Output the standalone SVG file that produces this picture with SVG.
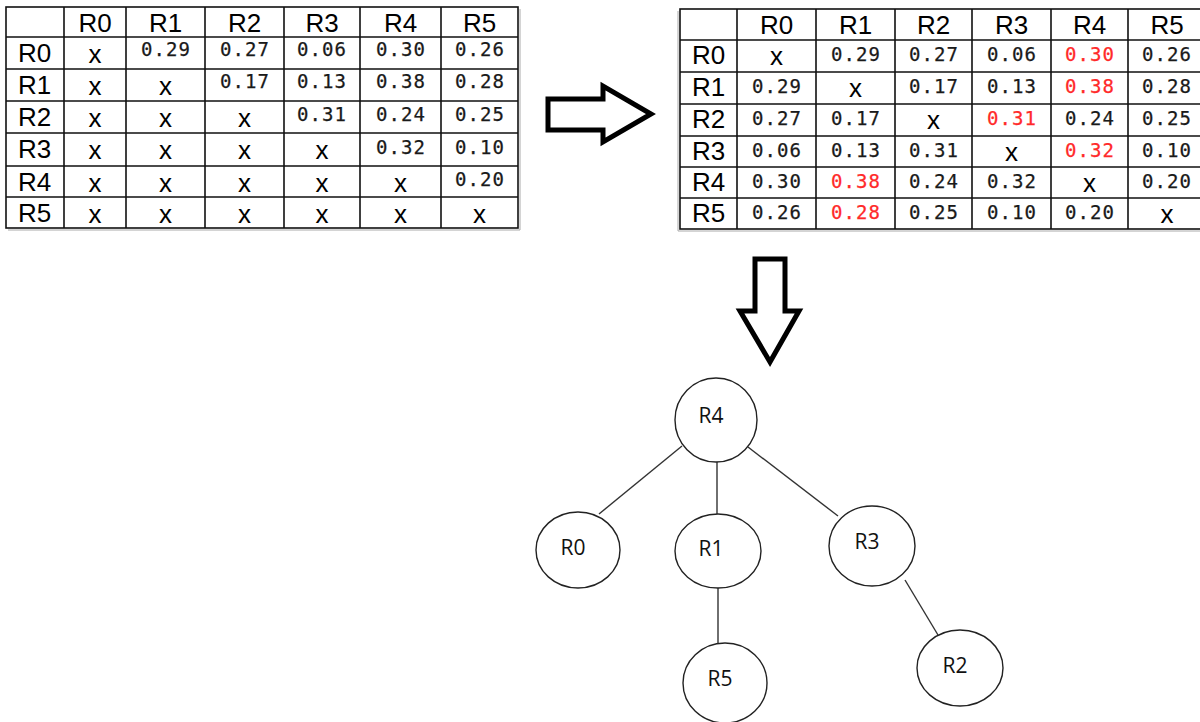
<svg xmlns="http://www.w3.org/2000/svg" width="1200" height="722" viewBox="0 0 1200 722">
  <style>
    .grid { fill: none; stroke: #111; stroke-width: 1.6; }
    .shade { fill: none; stroke: #aaa; stroke-width: 1; }
    .h { font-family: "Liberation Sans", Arial, sans-serif; font-size: 26px; fill: #000; text-anchor: middle; }
    .lbl { font-family: "Liberation Sans", Arial, sans-serif; font-size: 26px; fill: #000; }
    .x { font-family: "Liberation Sans", Arial, sans-serif; font-size: 26px; fill: #000; text-anchor: middle; }
    .n { font-family: "DejaVu Sans Mono", "Liberation Mono", monospace; font-size: 19px; letter-spacing: 1px; fill: #1a1a1a; text-anchor: middle; stroke: #1a1a1a; stroke-width: 0.25; }
    .red { fill: #ff2a2a; stroke: #ff2a2a; }
    .arrow { fill: #fff; stroke: #000; stroke-width: 5; stroke-linejoin: miter; }
    .node { fill: #fff; stroke: #222; stroke-width: 1.4; }
    .edge { stroke: #333; stroke-width: 1.4; fill: none; }
    .nl { font-family: "Open Sans", "Noto Sans", sans-serif; font-size: 21px; fill: #111; text-anchor: middle; }
  </style>

  <!-- Upper-triangular distance table -->
  <g id="table-upper">
    <path class="shade" d="M8 230 H520 V9"/>
    <rect class="grid" x="6" y="7" width="512" height="221"/>
    <path class="grid" d="M64 7 V228 M126 7 V228 M205 7 V228 M284 7 V228 M360 7 V228 M441 7 V228
                          M6 37 H518 M6 69 H518 M6 101 H518 M6 133 H518 M6 166 H518 M6 197 H518"/>
    <text class="h" x="95" y="32">R0</text>
    <text class="h" x="165.5" y="32">R1</text>
    <text class="h" x="244.5" y="32">R2</text>
    <text class="h" x="322" y="32">R3</text>
    <text class="h" x="400.5" y="32">R4</text>
    <text class="h" x="479.5" y="32">R5</text>

    <text class="lbl" x="18" y="62">R0</text>
    <text class="lbl" x="18" y="94">R1</text>
    <text class="lbl" x="18" y="126">R2</text>
    <text class="lbl" x="18" y="158">R3</text>
    <text class="lbl" x="18" y="191">R4</text>
    <text class="lbl" x="18" y="222">R5</text>

    <!-- row R0 -->
    <text class="x" x="95" y="63">x</text>
    <text class="n" x="166" y="56">0.29</text>
    <text class="n" x="245" y="56">0.27</text>
    <text class="n" x="322" y="56">0.06</text>
    <text class="n" x="401" y="56">0.30</text>
    <text class="n" x="480" y="56">0.26</text>
    <!-- row R1 -->
    <text class="x" x="95" y="95">x</text>
    <text class="x" x="165.5" y="95">x</text>
    <text class="n" x="245" y="88">0.17</text>
    <text class="n" x="322" y="88">0.13</text>
    <text class="n" x="401" y="88">0.38</text>
    <text class="n" x="480" y="88">0.28</text>
    <!-- row R2 -->
    <text class="x" x="95" y="127">x</text>
    <text class="x" x="165.5" y="127">x</text>
    <text class="x" x="244.5" y="127">x</text>
    <text class="n" x="322" y="121">0.31</text>
    <text class="n" x="401" y="121">0.24</text>
    <text class="n" x="480" y="121">0.25</text>
    <!-- row R3 -->
    <text class="x" x="95" y="159">x</text>
    <text class="x" x="165.5" y="159">x</text>
    <text class="x" x="244.5" y="159">x</text>
    <text class="x" x="322" y="159">x</text>
    <text class="n" x="401" y="154">0.32</text>
    <text class="n" x="480" y="154">0.10</text>
    <!-- row R4 -->
    <text class="x" x="95" y="192">x</text>
    <text class="x" x="165.5" y="192">x</text>
    <text class="x" x="244.5" y="192">x</text>
    <text class="x" x="322" y="192">x</text>
    <text class="x" x="400.5" y="192">x</text>
    <text class="n" x="480" y="186">0.20</text>
    <!-- row R5 -->
    <text class="x" x="95" y="223">x</text>
    <text class="x" x="165.5" y="223">x</text>
    <text class="x" x="244.5" y="223">x</text>
    <text class="x" x="322" y="223">x</text>
    <text class="x" x="400.5" y="223">x</text>
    <text class="x" x="479.5" y="223">x</text>
  </g>

  <!-- Block arrows -->
  <g id="arrow-right">
    <polygon class="arrow" points="548,99 603,99 603,86 651,114 603,142 603,130 548,130"/>
  </g>
  <g id="arrow-down">
    <polygon class="arrow" points="755,259 785,259 785,311 799,311 770,362 740,311 755,311"/>
  </g>

  <!-- Full symmetric distance table -->
  <g id="table-full">
    <path class="shade" d="M678 11 V231 H1200"/>
    <rect class="grid" x="680" y="9" width="526" height="220"/>
    <path class="grid" d="M737 9 V229 M816 9 V229 M895 9 V229 M972 9 V229 M1051 9 V229 M1128 9 V229
                          M680 40 H1206 M680 72 H1206 M680 104 H1206 M680 136 H1206 M680 167 H1206 M680 198 H1206"/>
    <text class="h" x="776.5" y="34">R0</text>
    <text class="h" x="855.5" y="34">R1</text>
    <text class="h" x="933.5" y="34">R2</text>
    <text class="h" x="1011.5" y="34">R3</text>
    <text class="h" x="1089.5" y="34">R4</text>
    <text class="h" x="1167" y="34">R5</text>

    <text class="lbl" x="692" y="64">R0</text>
    <text class="lbl" x="692" y="96">R1</text>
    <text class="lbl" x="692" y="128">R2</text>
    <text class="lbl" x="692" y="160">R3</text>
    <text class="lbl" x="692" y="191">R4</text>
    <text class="lbl" x="692" y="222">R5</text>

    <!-- row R0 -->
    <text class="x" x="776.5" y="65">x</text>
    <text class="n" x="856" y="61">0.29</text>
    <text class="n" x="934" y="61">0.27</text>
    <text class="n" x="1012" y="61">0.06</text>
    <text class="n red" x="1090" y="61">0.30</text>
    <text class="n" x="1167" y="61">0.26</text>
    <!-- row R1 -->
    <text class="n" x="777" y="93">0.29</text>
    <text class="x" x="855.5" y="97">x</text>
    <text class="n" x="934" y="93">0.17</text>
    <text class="n" x="1012" y="93">0.13</text>
    <text class="n red" x="1090" y="93">0.38</text>
    <text class="n" x="1167" y="93">0.28</text>
    <!-- row R2 -->
    <text class="n" x="777" y="125">0.27</text>
    <text class="n" x="856" y="125">0.17</text>
    <text class="x" x="933.5" y="129">x</text>
    <text class="n red" x="1012" y="125">0.31</text>
    <text class="n" x="1090" y="125">0.24</text>
    <text class="n" x="1167" y="125">0.25</text>
    <!-- row R3 -->
    <text class="n" x="777" y="157">0.06</text>
    <text class="n" x="856" y="157">0.13</text>
    <text class="n" x="934" y="157">0.31</text>
    <text class="x" x="1011.5" y="161">x</text>
    <text class="n red" x="1090" y="157">0.32</text>
    <text class="n" x="1167" y="157">0.10</text>
    <!-- row R4 -->
    <text class="n" x="777" y="188">0.30</text>
    <text class="n red" x="856" y="188">0.38</text>
    <text class="n" x="934" y="188">0.24</text>
    <text class="n" x="1012" y="188">0.32</text>
    <text class="x" x="1089.5" y="192">x</text>
    <text class="n" x="1167" y="188">0.20</text>
    <!-- row R5 -->
    <text class="n" x="777" y="219">0.26</text>
    <text class="n red" x="856" y="219">0.28</text>
    <text class="n" x="934" y="219">0.25</text>
    <text class="n" x="1012" y="219">0.10</text>
    <text class="n" x="1090" y="219">0.20</text>
    <text class="x" x="1167" y="223">x</text>
  </g>

  <!-- Spanning tree edges -->
  <g id="edges">
    <line class="edge" x1="682" y1="446" x2="599" y2="514"/>
    <line class="edge" x1="717" y1="462" x2="717" y2="514"/>
    <line class="edge" x1="748" y1="447" x2="838" y2="516"/>
    <line class="edge" x1="718" y1="588" x2="718" y2="643"/>
    <line class="edge" x1="905" y1="580" x2="938" y2="635"/>
  </g>

  <!-- Spanning tree nodes -->
  <g id="node-R4">
    <ellipse class="node" cx="716" cy="420" rx="41" ry="42"/>
    <text class="nl" x="711" y="423">R4</text>
  </g>
  <g id="node-R0">
    <ellipse class="node" cx="578" cy="550" rx="42" ry="38"/>
    <text class="nl" x="573" y="555">R0</text>
  </g>
  <g id="node-R1">
    <ellipse class="node" cx="718" cy="551" rx="43" ry="37"/>
    <text class="nl" x="711" y="556">R1</text>
  </g>
  <g id="node-R3">
    <ellipse class="node" cx="872" cy="546" rx="43" ry="40"/>
    <text class="nl" x="867" y="549">R3</text>
  </g>
  <g id="node-R5">
    <ellipse class="node" cx="725" cy="683" rx="42" ry="40"/>
    <text class="nl" x="720" y="686">R5</text>
  </g>
  <g id="node-R2">
    <ellipse class="node" cx="960" cy="668" rx="43" ry="38"/>
    <text class="nl" x="955" y="673">R2</text>
  </g>
</svg>
